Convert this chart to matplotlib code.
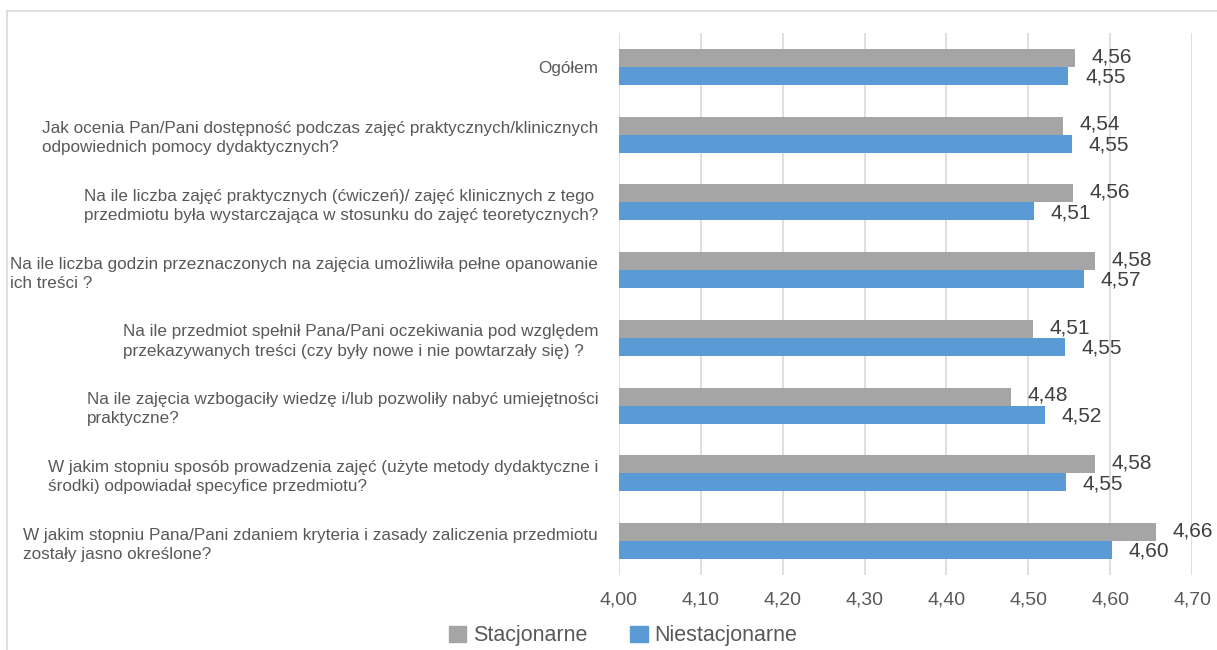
import matplotlib.pyplot as plt
import numpy as np
from matplotlib.lines import Line2D
from matplotlib.patches import Patch

# Dane (od gory do dolu)
pytania = [
    "Ogółem",
    "Jak ocenia Pan/Pani dostępność podczas zajęć praktycznych/klinicznych\nodpowiednich pomocy dydaktycznych?",
    "Na ile liczba zajęć praktycznych (ćwiczeń)/ zajęć klinicznych z tego\nprzedmiotu była wystarczająca w stosunku do zajęć teoretycznych?",
    "Na ile liczba godzin przeznaczonych na zajęcia umożliwiła pełne opanowanie\nich treści ?",
    "Na ile przedmiot spełnił Pana/Pani oczekiwania pod względem\nprzekazywanych treści (czy były nowe i nie powtarzały się) ?",
    "Na ile zajęcia wzbogaciły wiedzę i/lub pozwoliły nabyć umiejętności\npraktyczne?",
    "W jakim stopniu sposób prowadzenia zajęć (użyte metody dydaktyczne i\nśrodki) odpowiadał specyfice przedmiotu?",
    "W jakim stopniu Pana/Pani zdaniem kryteria i zasady zaliczenia przedmiotu\nzostały jasno określone?",
]
stacjonarne = [4.557, 4.542, 4.555, 4.581, 4.506, 4.479, 4.581, 4.656]
niestacjonarne = [4.549, 4.553, 4.507, 4.568, 4.545, 4.520, 4.546, 4.602]
etykiety_st = ["4,56", "4,54", "4,56", "4,58", "4,51", "4,48", "4,58", "4,66"]
etykiety_ns = ["4,55", "4,55", "4,51", "4,57", "4,55", "4,52", "4,55", "4,60"]
ticki = [4.00, 4.10, 4.20, 4.30, 4.40, 4.50, 4.60, 4.70]
ticki_txt = ["4,00", "4,10", "4,20", "4,30", "4,40", "4,50", "4,60", "4,70"]

SZARY = "#A5A5A5"
NIEBIESKI = "#5B9BD5"
TEKST = "#595959"
SIATKA = "#D9D9D9"

plt.rcParams["font.family"] = ["Liberation Sans", "DejaVu Sans"]

W, H = 1217, 650
fig = plt.figure(figsize=(W / 100, H / 100), dpi=100)

# ramka wykresu (gorna i lewa krawedz widoczne)
fig.add_artist(Line2D([7 / W, 1], [1 - 11 / H] * 2, color=SIATKA, lw=1.2, transform=fig.transFigure))
fig.add_artist(Line2D([7 / W] * 2, [0, 1 - 11 / H], color=SIATKA, lw=1.2, transform=fig.transFigure))

ax = fig.add_axes([619 / W, 1 - 575 / H, (1192 - 619) / W, (575 - 33) / H])

y = np.arange(len(pytania))
h = 0.265
ax.barh(y - h / 2, [v - 4 for v in stacjonarne], left=4, height=h, color=SZARY, label="Stacjonarne")
ax.barh(y + h / 2, [v - 4 for v in niestacjonarne], left=4, height=h, color=NIEBIESKI, label="Niestacjonarne")

# etykiety wartosci przy koncu slupkow
for i in range(len(pytania)):
    ax.annotate(etykiety_st[i], (stacjonarne[i], y[i] - h / 2), xytext=(12, 1), textcoords="offset points",
                va="center", ha="left", fontsize=15, color="#404040")
    ax.annotate(etykiety_ns[i], (niestacjonarne[i], y[i] + h / 2), xytext=(12, -1), textcoords="offset points",
                va="center", ha="left", fontsize=15, color="#404040")

ax.set_xlim(4.0, 4.70)
ax.set_ylim(len(pytania) - 0.5, -0.5)
ax.set_xticks(ticki)
ax.set_xticklabels(ticki_txt)
ax.set_yticks(y)
ax.set_yticklabels(pytania, multialignment="left", linespacing=1.35)
ax.tick_params(axis="x", length=0, pad=12, labelsize=14, labelcolor=TEKST)
ax.tick_params(axis="y", length=0, pad=15, labelsize=12.3, labelcolor=TEKST)
ax.grid(axis="x", color=SIATKA, lw=1.2)
ax.set_axisbelow(True)
for s in ax.spines.values():
    s.set_visible(False)

uchwyty = [Patch(color=SZARY), Patch(color=NIEBIESKI)]
fig.legend(uchwyty, ["Stacjonarne", "Niestacjonarne"], loc="center", bbox_to_anchor=(623 / W, 1 - 636 / H),
           ncol=2, frameon=False, fontsize=15.5, handlelength=0.8, handleheight=0.8, handletextpad=0.3,
           columnspacing=2.0, labelcolor=TEKST)

fig.savefig("out.png", dpi=100)
